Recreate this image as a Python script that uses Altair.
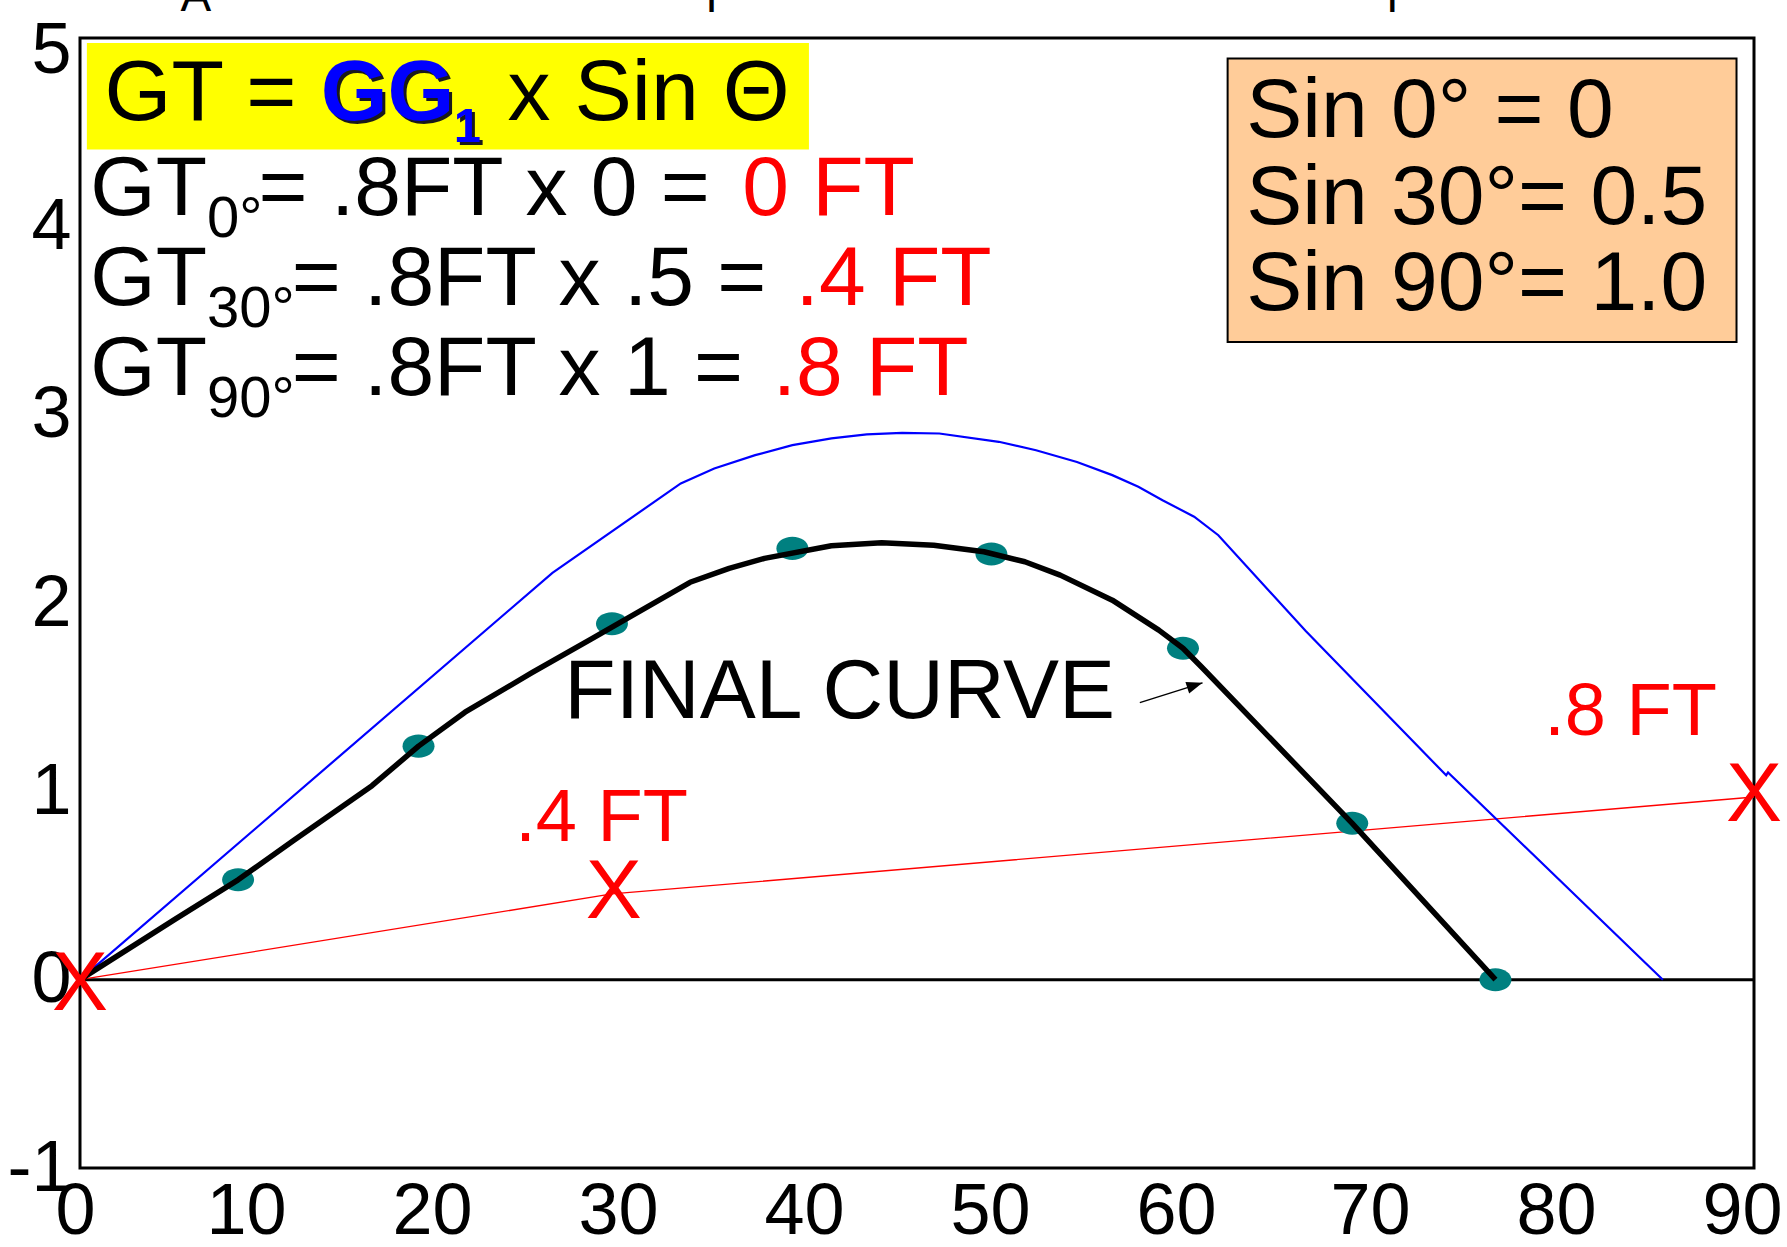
import altair as alt
import pandas as pd

FONT = "Liberation Sans"

# Heel angle (degrees) against righting arm GZ (feet)
final_x = [0, 5.1, 8.5, 11.5, 15.7, 18.2, 20.7, 24.3, 27.5, 32.8, 34.9, 36.8, 40.4, 43.1,
           45.9, 48.6, 50.8, 52.7, 55.5, 58.0, 59.3, 60.3, 68.4, 76.1]
final_y = [0, 0.32, 0.53, 0.74, 1.03, 1.24, 1.42, 1.63, 1.81, 2.11, 2.184, 2.237, 2.304, 2.32,
           2.307, 2.272, 2.219, 2.148, 2.015, 1.856, 1.76, 1.66, 0.83, 0.0]

# Original (uncorrected) curve
orig_x = [0, 25.4, 32.3, 34.1, 36.3, 38.3, 40.4, 42.3, 44.2, 46.2, 49.4, 51.4, 53.6, 55.5,
          56.9, 58.2, 59.9, 61.2, 65.9, 73.55, 73.45, 85.1]
orig_y = [0, 2.16, 2.635, 2.714, 2.785, 2.838, 2.874, 2.895, 2.903, 2.900, 2.856, 2.811, 2.749,
          2.679, 2.617, 2.546, 2.458, 2.36, 1.851, 1.10, 1.085, 0.0]

# Plotted points of the final curve
dot_x = [8.5, 18.2, 28.6, 38.3, 49.0, 59.3, 68.4, 76.1]
dot_y = [0.53, 1.24, 1.89, 2.29, 2.26, 1.76, 0.83, 0.0]

# GT correction line and its X marks (0, 30 and 90 degrees)
gt_x = [0, 28.6, 90]
gt_y = [0, 0.455, 0.97]
gt_mark_x = [0, 28.7, 90]
gt_mark_y = [0, 0.487, 1.0]

# Arrow pointing at the final curve
arrow_x = [56.98, 60.35]
arrow_y = [1.471, 1.576]

x_ticks = [0, 10, 20, 30, 40, 50, 60, 70, 80, 90]
y_ticks = [-1, 0, 1, 2, 3, 4, 5]

# Plain text runs: text, x, baseline y, font size, colour
txt_label = ["GT = ", "x Sin \u0398",
             "GT", "0\u00b0", "= .8FT x 0 =", "0 FT",
             "GT", "30\u00b0", "= .8FT x .5 =", ".4 FT",
             "GT", "90\u00b0", "= .8FT x 1 =", ".8 FT",
             "Sin 0\u00b0 = 0", "Sin 30\u00b0= 0.5", "Sin 90\u00b0= 1.0",
             "FINAL CURVE", ".4 FT", ".8 FT",
             "A", "T", "T"]
txt_x = [1.32, 22.99,
         0.554, 6.83, 9.6, 35.6,
         0.554, 6.83, 11.38, 38.47,
         0.554, 6.83, 11.38, 37.24,
         62.7, 62.7, 62.7,
         26.04, 23.4, 78.72,
         5.4, 33.2, 69.8]
txt_y = [4.563, 4.563,
         4.059, 3.944, 4.059, 4.059,
         3.581, 3.466, 3.581, 3.581,
         3.104, 2.989, 3.104, 3.104,
         4.475, 4.015, 3.555,
         1.387, 0.736, 1.299,
         5.146, 5.136, 5.136]
txt_size = [86, 86,
            84, 58, 84, 84,
            84, 58, 84, 84,
            84, 58, 84, 84,
            84, 84, 84,
            84, 74, 74,
            46, 46, 46]
txt_color = ["black", "black",
             "black", "black", "black", "#FF0000",
             "black", "black", "black", "#FF0000",
             "black", "black", "black", "#FF0000",
             "black", "black", "black",
             "black", "#FF0000", "#FF0000",
             "black", "black", "black"]

# Bold blue runs of the formula
bold_label = ["GG", "1"]
bold_x = [12.94, 20.1]
bold_y = [4.563, 4.448]
bold_size = [86, 49]

# Highlight boxes: formula (yellow) and sine table (peach)
box_x = [0.37, 61.7]
box_x2 = [39.19, 89.06]
box_y = [4.973, 4.891]
box_y2 = [4.408, 3.386]
box_fill = ["#FFFF00", "#FFCC99"]
box_stroke = [0, 2]

final_df = pd.DataFrame({"x": final_x, "y": final_y})
orig_df = pd.DataFrame({"x": orig_x, "y": orig_y})
dot_df = pd.DataFrame({"x": dot_x, "y": dot_y})
gt_df = pd.DataFrame({"x": gt_x, "y": gt_y})
gt_mark_df = pd.DataFrame({"x": gt_mark_x, "y": gt_mark_y, "t": ["X"] * len(gt_mark_x)})
arrow_df = pd.DataFrame({"x": arrow_x, "y": arrow_y})
arrow_tip = arrow_df.tail(1)
txt_df = pd.DataFrame({"t": txt_label, "x": txt_x, "y": txt_y, "s": txt_size, "c": txt_color})
bold_df = pd.DataFrame({"t": bold_label, "x": bold_x, "y": bold_y, "s": bold_size})
box_df = pd.DataFrame({"x": box_x, "x2": box_x2, "y": box_y, "y2": box_y2,
                       "f": box_fill, "sw": box_stroke})
zero_df = pd.DataFrame({"y": [0]})

xs = alt.Scale(domain=[0, 90], nice=False, zero=False)
ys = alt.Scale(domain=[-1, 5], nice=False, zero=False)

x_axis = alt.Axis(
    values=x_ticks, title=None, grid=False, domain=False, ticks=False, tickSize=0,
    labelFontSize=72, labelFont=FONT, labelColor="black", labelPadding=8,
    labelOffset={"condition": [{"test": "datum.value == 0", "value": -5},
                               {"test": "datum.value >= 70", "value": -12}],
                 "value": -20},
    labelFlush=False, labelOverlap=False)
y_axis = alt.Axis(
    values=y_ticks, title=None, grid=False, domain=False, ticks=False, tickSize=0,
    labelFontSize=72, labelFont=FONT, labelColor="black", labelPadding=9,
    labelOffset={"condition": {"test": "datum.value == 5", "value": 12}, "value": 0},
    labelOverlap=False,
    labelExpr="datum.value < 0 ? '-' + (-datum.value) : datum.label")

X = lambda: alt.X("x:Q", scale=xs, axis=x_axis)
Y = lambda: alt.Y("y:Q", scale=ys, axis=y_axis)

boxes = alt.Chart(box_df).mark_rect(stroke="black").encode(
    x=X(), x2="x2:Q", y=Y(), y2="y2:Q",
    fill=alt.Fill("f:N", scale=None),
    strokeWidth=alt.StrokeWidth("sw:Q", scale=None),
)

zero_line = alt.Chart(zero_df).mark_rule(color="black", strokeWidth=3).encode(y=Y())

gt_line = alt.Chart(gt_df).mark_line(color="#FF0000", strokeWidth=1.3).encode(x=X(), y=Y())

orig_line = alt.Chart(orig_df).mark_line(color="#0000FF", strokeWidth=2.2).encode(x=X(), y=Y())

ellipse = "M-1,0 A1,0.72 0 1,0 1,0 A1,0.72 0 1,0 -1,0 Z"
dots = alt.Chart(dot_df).mark_point(
    shape=ellipse, size=1024, filled=True, color="#008080", opacity=1, strokeWidth=0
).encode(x=X(), y=Y())

final_line = alt.Chart(final_df).mark_line(
    color="black", strokeWidth=5.5, strokeJoin="round"
).encode(x=X(), y=Y())

arrow_shaft = alt.Chart(arrow_df).mark_line(color="black", strokeWidth=1.5).encode(x=X(), y=Y())
arrow_head = alt.Chart(arrow_tip).mark_point(
    shape="M0,0 L-2,-0.75 L-2,0.75 Z", size=256, filled=True, color="black",
    opacity=1, strokeWidth=0, angle=342
).encode(x=X(), y=Y())

texts = alt.Chart(txt_df).mark_text(
    align="left", baseline="alphabetic", font=FONT
).encode(
    x=X(), y=Y(), text="t:N",
    size=alt.Size("s:Q", scale=None),
    color=alt.Color("c:N", scale=None),
)

bold_shadow = alt.Chart(bold_df).mark_text(
    align="left", baseline="alphabetic", font=FONT, fontWeight="bold",
    color="#1a1a1a", dx=3, dy=3
).encode(x=X(), y=Y(), text="t:N", size=alt.Size("s:Q", scale=None))

bold_text = alt.Chart(bold_df).mark_text(
    align="left", baseline="alphabetic", font=FONT, fontWeight="bold", color="#0000FF"
).encode(x=X(), y=Y(), text="t:N", size=alt.Size("s:Q", scale=None))

gt_marks = alt.Chart(gt_mark_df).mark_text(
    align="center", baseline="alphabetic", font=FONT, fontSize=84, color="#FF0000", dy=30
).encode(x=X(), y=Y(), text="t:N")

chart = alt.layer(
    boxes, zero_line, gt_line, orig_line, dots, final_line,
    arrow_shaft, arrow_head, texts, bold_shadow, bold_text, gt_marks,
).properties(
    width=1674, height=1130,
    padding={"left": 80, "top": 38, "right": 33, "bottom": 79},
    autosize=alt.AutoSizeParams(type="none"),
    background="white",
).configure_view(stroke="black", strokeWidth=3)

chart.save("out.html", embed_options={"renderer": "svg", "actions": False})
